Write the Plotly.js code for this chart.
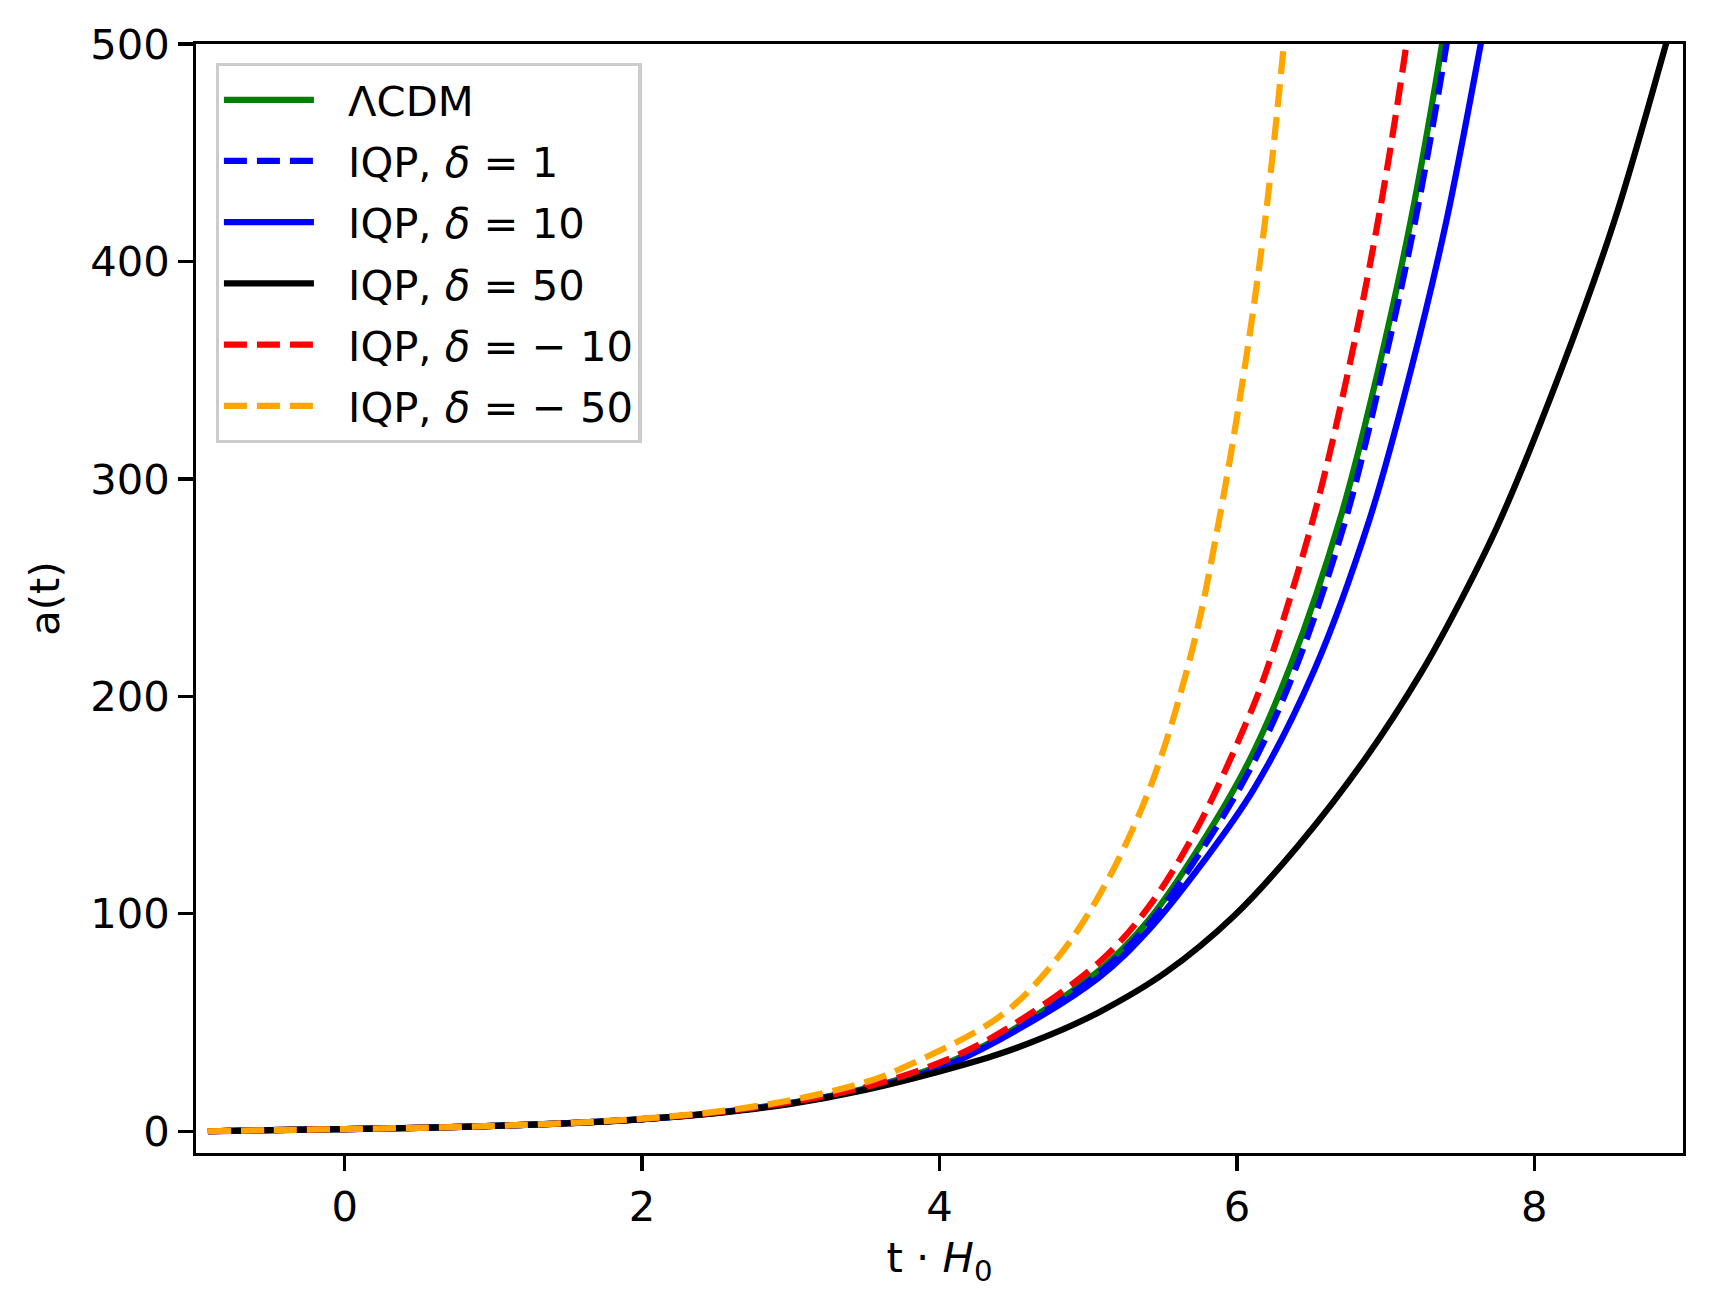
<!DOCTYPE html>
<html>
<head>
<meta charset="utf-8">
<script src="https://cdn.plot.ly/plotly-3.0.1.min.js"></script>
<style>
  html, body { margin: 0; padding: 0; background: white; }
  #plot { width: 1713px; height: 1310px; }
</style>
</head>
<body>
<div id="plot"></div>
<script>
// values (t * H0 , a(t))
const tLcdm = [-0.92, -0.5, 0, 0.5, 1, 1.5, 2, 2.5, 3, 3.5, 4, 4.4, 5.07, 5.41, 5.75, 6.08, 6.36, 6.7, 6.95, 7.17, 7.38, 7.5]
const aLcdm = [0, 0.5, 1, 1.6, 2.45, 3.7, 5.6, 8.6, 13.1, 19.6, 30, 43, 73.7, 97.4, 131, 170, 214, 283, 350, 419, 500, 555]

const tD1 = [-0.92, -0.5, 0, 0.5, 1, 1.5, 2, 2.5, 3, 3.5, 4, 4.4, 5.07, 5.41, 5.76, 6.1, 6.39, 6.73, 6.98, 7.2, 7.41, 7.52]
const aD1 = [0, 0.5, 1, 1.6, 2.45, 3.7, 5.6, 8.6, 13.0, 19.5, 29.6, 42.5, 72.5, 95.5, 129, 168, 212, 281, 350, 419, 500, 552]

const tD10 = [-0.92, -0.5, 0, 0.5, 1, 1.5, 2, 2.5, 3, 3.5, 4, 4.4, 5.07, 5.41, 5.77, 6.12, 6.52, 6.89, 7.17, 7.41, 7.64, 7.76]
const aD10 = [0, 0.5, 1, 1.6, 2.45, 3.7, 5.6, 8.5, 12.9, 19.3, 29.0, 42.0, 70.6, 92.8, 123.5, 158, 212, 281, 350, 419, 500, 545]

const tD50 = [-0.92, -0.5, 0, 0.5, 1, 1.5, 2, 2.5, 3, 3.5, 4, 4.4, 4.75, 5.08, 5.52, 5.98, 6.42, 6.87, 7.24, 7.52, 7.77, 8.18, 8.54, 8.886, 9.05]
const aD50 = [0, 0.5, 1, 1.6, 2.45, 3.65, 5.5, 8.3, 12.6, 19, 27.5, 35.5, 44.5, 55, 73, 99, 132, 172, 211, 246, 281, 350, 419, 500, 540]

const tDm10 = [-0.92, -0.5, 0, 0.5, 1, 1.5, 2, 2.5, 3, 3.5, 4, 4.4, 5.07, 5.41, 5.73, 6.07, 6.2, 6.51, 6.75, 6.95, 7.14, 7.25]
const aDm10 = [0, 0.5, 1, 1.6, 2.45, 3.7, 5.6, 8.7, 13.4, 20.3, 31.5, 45, 77.5, 103.5, 139, 189, 212, 281, 350, 419, 500, 560]

const tDm50 = [-0.92, -0.5, 0, 0.5, 1, 1.5, 2, 2.5, 3, 3.5, 3.73, 4.4, 4.75, 5.07, 5.41, 5.7, 5.88, 6.05, 6.19, 6.316, 6.4]
const aDm50 = [0, 0.5, 1, 1.6, 2.45, 3.75, 5.8, 9.0, 14.3, 22.5, 28.5, 52.5, 76, 108, 157, 221.5, 281, 350, 419, 500, 565]

const seriesNames = ["ΛCDM", "IQP, <i>δ</i> = 1", "IQP, <i>δ</i> = 10", "IQP, <i>δ</i> = 50",
	"IQP, <i>δ</i> = − 10", "IQP, <i>δ</i> = − 50"]
const xTicks = [0, 2, 4, 6, 8]
const yTicks = [0, 100, 200, 300, 400, 500]

const FONT = "DejaVu Sans, Liberation Sans, sans-serif"
const FS = 41.7
const DASH = "23px,10px"
const GAP = "\u2002\u2009" // space between legend line and its label

function curve(x, y, name, color, dash) {
	return {
		x: x,
		y: y,
		name: GAP + name,
		type: "scatter",
		mode: "lines",
		legendgroup: name,
		line: { color: color, width: 6.25, dash: dash, shape: "spline", smoothing: 1 }
	}
}

var data = [
	curve(tLcdm, aLcdm, seriesNames[0], "#008000", "solid"),
	curve(tD1, aD1, seriesNames[1], "#0000ff", DASH),
	curve(tD10, aD10, seriesNames[2], "#0000ff", "solid"),
	curve(tD50, aD50, seriesNames[3], "#000000", "solid"),
	curve(tDm10, aDm10, seriesNames[4], "#ff0000", DASH),
	curve(tDm50, aDm50, seriesNames[5], "#ffa500", DASH)
]

var axisCommon = {
	showline: true,
	mirror: true,
	linecolor: "black",
	linewidth: 3.3,
	showgrid: false,
	zeroline: false,
	ticks: "outside",
	ticklen: 14.6,
	tickwidth: 3.3,
	tickcolor: "black",
	tickfont: { family: FONT, size: FS, color: "black" }
}

var layout = {
	width: 1713,
	height: 1310,
	margin: { l: 196, r: 30, t: 44, b: 157, pad: 0 },
	paper_bgcolor: "white",
	plot_bgcolor: "white",
	font: { family: FONT, size: FS, color: "black" },
	showlegend: true,
	legend: {
		x: 0.0132,
		y: 0.983,
		xanchor: "left",
		yanchor: "top",
		bgcolor: "rgba(255,255,255,0.8)",
		bordercolor: "#cccccc",
		borderwidth: 3.3,
		itemwidth: 90,
		tracegroupgap: 4,
		font: { family: FONT, size: FS, color: "black" }
	},
	xaxis: Object.assign({}, axisCommon, {
		range: [-1, 9],
		tickvals: xTicks,
		ticktext: xTicks.map(String),
		title: { text: "t · <i>H</i><sub>0</sub>", font: { family: FONT, size: FS }, standoff: 14 }
	}),
	yaxis: Object.assign({}, axisCommon, {
		range: [-10, 500],
		tickvals: yTicks,
		ticktext: yTicks.map(String),
		title: { text: "a(t)", font: { family: FONT, size: FS }, standoff: 18 }
	})
}

var config = { displayModeBar: false, staticPlot: true }

Plotly.newPlot("plot", data, layout, config)
</script>
</body>
</html>
